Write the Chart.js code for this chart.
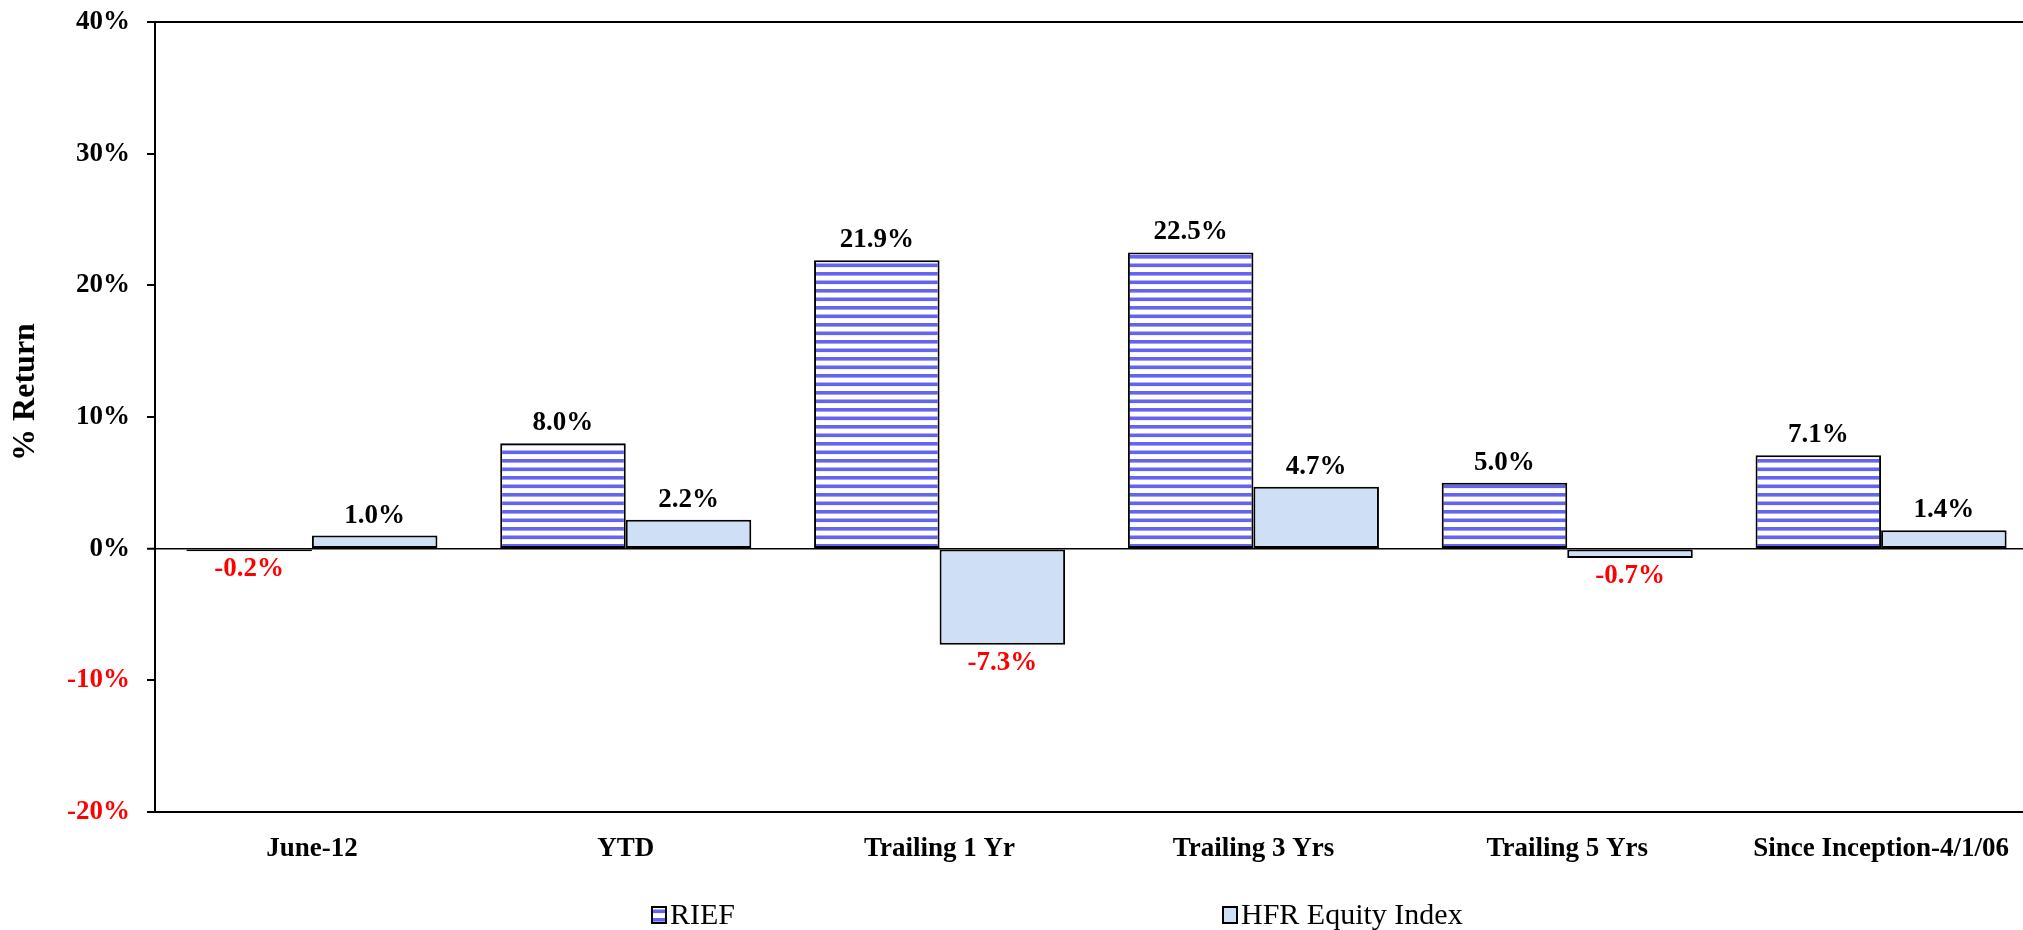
<!DOCTYPE html>
<html>
<head>
<meta charset="utf-8">
<script src="https://cdn.jsdelivr.net/npm/chart.js@4"></script>
<style>
  html, body { margin: 0; padding: 0; background: #fff; overflow: hidden; }
  #wrap { width: 2023px; height: 930px; overflow: hidden; }
</style>
</head>
<body>
<div id="wrap"><canvas id="chart" width="2038" height="930"></canvas></div>
<script>
// data
const categories = ['June-12', 'YTD', 'Trailing 1 Yr', 'Trailing 3 Yrs', 'Trailing 5 Yrs', 'Since Inception-4/1/06'];
const rief = [-0.2, 8.0, 21.9, 22.5, 5.0, 7.1];
const hfr = [1.0, 2.2, -7.3, 4.7, -0.7, 1.4];
const seriesNames = ['RIEF', 'HFR Equity Index'];
const yTicks = [-20, -10, 0, 10, 20, 30, 40];
const yTitle = '% Return';

const serif = '"Liberation Serif", "Times New Roman", serif';
const hfrColor = '#cfe0f6';

// horizontal stripes for RIEF
function stripes() {
    let c = document.createElement('canvas');
    c.width = 4;
    c.height = 17;
    let g = c.getContext('2d');
    g.fillStyle = '#ffffff';
    g.fillRect(0, 0, 4, 17);
    g.fillStyle = '#6464f0';
    g.fillRect(0, 0, 4, 3.6);
    g.fillRect(0, 8.5, 4, 3.6);
    return g.createPattern(c, 'repeat');
}
const riefFill = stripes();

// value labels: black above positive bars, red below negative ones
const valueLabels = {
    id: 'valueLabels',
    afterDatasetsDraw(chart) {
        const ctx = chart.ctx;
        ctx.save();
        ctx.font = 'bold 27px ' + serif;
        ctx.textAlign = 'center';
        ctx.textBaseline = 'alphabetic';
        chart.data.datasets.forEach((ds, i) => {
            chart.getDatasetMeta(i).data.forEach((bar, j) => {
                let v = ds.data[j];
                let txt = v.toFixed(1) + '%';
                if (v < 0) {
                    ctx.fillStyle = '#ff0000';
                    ctx.fillText(txt, bar.x, bar.y + 25);
                } else {
                    ctx.fillStyle = '#000000';
                    ctx.fillText(txt, bar.x, bar.y - 13);
                }
            });
        });
        ctx.restore();
    }
};

// y title sits a little above the middle in the original
const sideTitle = {
    id: 'sideTitle',
    afterDraw(chart) {
        const ctx = chart.ctx;
        ctx.save();
        ctx.translate(26, 392);
        ctx.rotate(-Math.PI / 2);
        ctx.font = 'bold 32px ' + serif;
        ctx.fillStyle = '#000';
        ctx.textAlign = 'center';
        ctx.textBaseline = 'middle';
        ctx.fillText(yTitle, 0, 0);
        ctx.restore();
    }
};

// legend spread out like the original
const spreadLegend = {
    id: 'spreadLegend',
    afterDraw(chart) {
        const ctx = chart.ctx;
        const lefts = [652, 1223];
        const y = 915;
        ctx.save();
        ctx.font = '30px ' + serif;
        ctx.textBaseline = 'middle';
        chart.data.datasets.forEach((ds, i) => {
            let x = lefts[i];
            ctx.fillStyle = ds.backgroundColor;
            ctx.fillRect(x, y - 8, 14, 16);
            ctx.lineWidth = 2;
            ctx.strokeStyle = '#000';
            ctx.strokeRect(x, y - 8, 14, 16);
            ctx.fillStyle = '#000';
            ctx.fillText(ds.label, x + 18, y + 1);
        });
        ctx.restore();
    }
};

const ctx = document.getElementById('chart').getContext('2d');
const chart = new Chart(ctx, {
    type: 'bar',
    data: {
        labels: categories,
        datasets: [{
            label: seriesNames[0],
            data: rief,
            backgroundColor: riefFill,
            borderColor: '#000',
            borderWidth: 2,
            borderSkipped: false
        }, {
            label: seriesNames[1],
            data: hfr,
            backgroundColor: hfrColor,
            borderColor: '#000',
            borderWidth: 2,
            borderSkipped: false
        }]
    },
    options: {
        responsive: false,
        animation: false,
        layout: { padding: { top: 22, right: 0, bottom: 68, left: 0 } },
        datasets: { bar: { categoryPercentage: 0.8, barPercentage: 1.0 } },
        plugins: {
            legend: { display: false },
            tooltip: { enabled: false }
        },
        scales: {
            x: {
                grid: { display: false },
                border: { display: false },
                ticks: {
                    color: '#000',
                    font: { family: serif, size: 27, weight: 'bold' },
                    padding: 13,
                    maxRotation: 0
                },
                afterFit(scale) { scale.height = 50; }
            },
            y: {
                min: yTicks[0],
                max: yTicks[yTicks.length - 1],
                afterBuildTicks(scale) {
                    scale.ticks = yTicks.map(v => ({ value: v }));
                },
                grid: {
                    color: c => (c.tick && [40, 0, -20].includes(c.tick.value)) ? '#000' : 'rgba(0,0,0,0)',
                    lineWidth: c => (c.tick && c.tick.value === 0) ? 1.5 : 2,
                    tickColor: '#000',
                    tickWidth: 2,
                    tickLength: 8
                },
                border: { display: true, color: '#000', width: 2 },
                ticks: {
                    padding: 17,
                    color: c => c.tick.value < 0 ? '#ff0000' : '#000',
                    font: { family: serif, size: 27, weight: 'bold' },
                    callback: v => v + '%'
                },
                afterFit(scale) {
                    scale.width = 155;
                    scale.paddingTop = 0;
                    scale.paddingBottom = 0;
                }
            }
        }
    },
    plugins: [valueLabels, sideTitle, spreadLegend]
});
</script>
</body>
</html>
